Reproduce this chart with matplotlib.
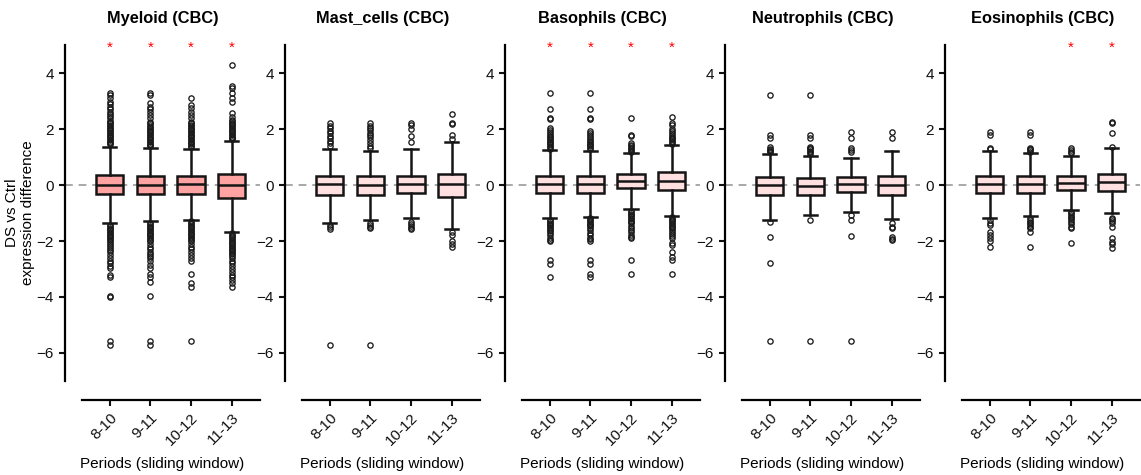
import matplotlib
matplotlib.use("Agg")
import matplotlib.pyplot as plt

plt.rcParams['font.family'] = ['Liberation Sans', 'DejaVu Sans']

periods = ["8-10", "9-11", "10-12", "11-13"]
titles = ["Myeloid (CBC)", "Mast_cells (CBC)", "Basophils (CBC)",
          "Neutrophils (CBC)", "Eosinophils (CBC)"]
fill_colors = ["#FFA2A2", "#FFE0E0", "#FFE0E0", "#FFE0E0", "#FFE0E0"]

# box stats per panel (rows) and period (columns)
medians = [[0.01, 0.01, 0.04, 0.00],
           [0.02, 0.00, 0.04, 0.05],
           [0.04, 0.04, 0.13, 0.15],
           [-0.01, -0.02, 0.02, 0.00],
           [0.02, 0.04, 0.08, 0.12]]
q1 = [[-0.33, -0.33, -0.32, -0.45],
      [-0.36, -0.36, -0.30, -0.42],
      [-0.29, -0.29, -0.12, -0.17],
      [-0.36, -0.36, -0.24, -0.36],
      [-0.30, -0.27, -0.18, -0.21]]
q3 = [[0.36, 0.33, 0.33, 0.38],
      [0.33, 0.31, 0.33, 0.38],
      [0.33, 0.33, 0.40, 0.48],
      [0.27, 0.24, 0.27, 0.32],
      [0.33, 0.33, 0.33, 0.40]]
whisk_lo = [[-1.35, -1.29, -1.25, -1.67],
            [-1.35, -1.25, -1.19, -1.57],
            [-1.19, -1.13, -0.87, -1.10],
            [-1.25, -1.07, -0.98, -1.21],
            [-1.17, -1.11, -0.89, -1.01]]
whisk_hi = [[1.37, 1.31, 1.29, 1.58],
            [1.27, 1.21, 1.27, 1.52],
            [1.25, 1.23, 1.13, 1.43],
            [1.10, 1.05, 0.98, 1.23],
            [1.21, 1.15, 1.05, 1.31]]

fliers_myeloid = [
    [1.45, 1.5, 1.55, 1.6, 1.65, 1.7, 1.75, 1.8, 1.85, 1.9, 1.95, 2.0, 2.05, 2.1, 2.15,
     2.2, 2.25, 2.3, 2.38, 2.46, 2.54, 2.62, 2.7, 2.8, 2.9, 2.98, 3.1, 3.21, 3.27,
     -1.42, -1.47, -1.52, -1.57, -1.62, -1.67, -1.72, -1.77, -1.82, -1.87, -1.92, -1.97,
     -2.02, -2.1, -2.17, -2.24, -2.32, -2.4, -2.5, -2.6, -2.71, -2.8, -2.88, -2.95,
     -3.22, -3.27, -3.96, -3.99, -5.56, -5.71],
    [1.38, 1.43, 1.48, 1.53, 1.58, 1.63, 1.68, 1.73, 1.78, 1.83, 1.88, 1.93, 1.98, 2.03,
     2.08, 2.13, 2.2, 2.26, 2.38, 2.5, 2.62, 2.71, 2.8, 2.92, 3.21, 3.27,
     -1.35, -1.4, -1.45, -1.5, -1.55, -1.6, -1.65, -1.7, -1.75, -1.8, -1.85, -1.9, -1.95,
     -2.0, -2.1, -2.2, -2.3, -2.38, -2.45, -2.55, -2.62, -2.72, -2.85, -2.95, -3.19,
     -3.27, -3.48, -3.96, -5.56, -5.71],
    [1.35, 1.4, 1.45, 1.5, 1.55, 1.6, 1.65, 1.7, 1.75, 1.8, 1.85, 1.9, 1.95, 2.0, 2.05,
     2.1, 2.15, 2.2, 2.26, 2.38, 2.5, 2.62, 2.74, 2.86, 3.1,
     -1.3, -1.35, -1.4, -1.45, -1.5, -1.55, -1.6, -1.65, -1.7, -1.75, -1.8, -1.85, -1.9,
     -1.95, -2.0, -2.1, -2.2, -2.3, -2.4, -2.5, -2.6, -2.71, -3.19, -3.49, -3.64, -5.58],
    [1.63, 1.68, 1.73, 1.78, 1.83, 1.88, 1.93, 1.98, 2.03, 2.08, 2.13, 2.18, 2.23, 2.28,
     2.32, 2.44, 2.56, 2.95, 3.1, 3.27, 3.45, 3.55, 4.29,
     -1.72, -1.77, -1.82, -1.87, -1.92, -1.97, -2.02, -2.07, -2.12, -2.17, -2.22, -2.27,
     -2.32, -2.37, -2.42, -2.47, -2.52, -2.6, -2.7, -2.8, -2.9, -3.0, -3.1, -3.2, -3.3,
     -3.4, -3.5, -3.63],
]
fliers_mast = [
    [1.4, 1.49, 1.57, 1.67, 1.76, 1.85, 1.93, 2.02, 2.11, 2.2, -1.43, -1.49, -1.57, -5.71],
    [1.33, 1.4, 1.5, 1.6, 1.7, 1.78, 1.87, 1.95, 2.04, 2.12, 2.2,
     -1.35, -1.43, -1.5, -1.55, -5.71],
    [1.52, 1.76, 1.99, 2.14, 2.23, -1.31, -1.38, -1.45, -1.52, -1.57],
    [1.64, 1.79, 2.17, 2.2, 2.54, -1.67, -1.79, -2.0, -2.11, -2.2],
]
fliers_baso = [
    [1.3, 1.35, 1.4, 1.45, 1.5, 1.55, 1.6, 1.65, 1.7, 1.75, 1.82, 1.9, 1.96, 2.02, 2.36,
     2.4, 2.71, 3.27,
     -1.24, -1.29, -1.34, -1.39, -1.44, -1.49, -1.54, -1.59, -1.64, -1.7, -1.79, -1.88,
     -1.96, -2.0, -2.68, -2.83, -3.27],
    [1.28, 1.33, 1.38, 1.43, 1.48, 1.53, 1.58, 1.63, 1.7, 1.78, 1.85, 1.92, 2.36, 2.4,
     2.71, 3.27,
     -1.18, -1.23, -1.28, -1.33, -1.38, -1.43, -1.48, -1.53, -1.6, -1.73, -1.8, -1.88,
     -1.94, -2.0, -2.68, -2.83, -3.19, -3.27],
    [1.18, 1.23, 1.28, 1.33, 1.38, 1.43, 1.5, 1.76, 1.79, 2.38,
     -0.92, -0.97, -1.02, -1.07, -1.12, -1.17, -1.22, -1.27, -1.32, -1.37, -1.45, -1.52,
     -1.62, -1.68, -1.78, -1.86, -1.9, -2.68, -3.19],
    [1.48, 1.53, 1.58, 1.63, 1.68, 1.73, 1.78, 1.85, 1.92, 2.0, 2.14, 2.23, 2.42,
     -1.15, -1.2, -1.25, -1.3, -1.35, -1.4, -1.45, -1.5, -1.55, -1.6, -1.67, -1.74,
     -1.82, -1.9, -2.08, -2.14, -2.38, -2.56, -2.68, -3.19],
]
fliers_neutro = [
    [1.17, 1.2, 1.25, 1.3, 1.37, 1.67, 1.79, 3.21, -1.31, -1.87, -2.77, -5.57],
    [1.1, 1.17, 1.22, 1.27, 1.32, 1.37, 1.67, 1.79, 3.21, -1.25, -5.57],
    [1.17, 1.25, 1.33, 1.67, 1.88, -1.07, -1.25, -1.81, -5.57],
    [1.69, 1.88, -1.37, -1.49, -1.55, -1.85, -1.92, -1.96],
]
fliers_eosino = [
    [1.29, 1.33, 1.79, 1.88, -1.25, -1.37, -1.43, -1.67, -1.79, -1.9, -2.0, -2.2],
    [1.19, 1.24, 1.29, 1.33, 1.79, 1.88,
     -1.19, -1.25, -1.31, -1.37, -1.43, -1.49, -1.55, -1.69, -2.2],
    [1.13, 1.19, 1.25, 1.31,
     -0.95, -1.01, -1.07, -1.13, -1.19, -1.25, -1.31, -1.4, -1.49, -1.55, -2.08],
    [1.37, 1.87, 2.23, 2.26,
     -1.17, -1.23, -1.29, -1.35, -1.49, -1.9, -2.02, -2.12, -2.24],
]
fliers = [fliers_myeloid, fliers_mast, fliers_baso, fliers_neutro, fliers_eosino]

# significance stars
significant = [[True, True, True, True],
               [False, False, False, False],
               [True, True, True, True],
               [False, False, False, False],
               [False, False, True, True]]

W, H = 1141, 475
fig = plt.figure(figsize=(W / 100, H / 100), dpi=100)

edge = "#151515"
for k in range(5):
    ax = fig.add_axes([(65 + 220 * k) / W, 1 - 381 / H, 195 / W, 336 / H])
    stats = []
    for j in range(4):
        stats.append(dict(med=medians[k][j], q1=q1[k][j], q3=q3[k][j],
                          whislo=whisk_lo[k][j], whishi=whisk_hi[k][j],
                          fliers=fliers[k][j]))
    ax.axhline(0, color="#a8a8a8", lw=1.4, dashes=(4, 3), zorder=0)
    ax.bxp(stats, positions=range(4), widths=0.67, capwidths=0.33,
           patch_artist=True, showfliers=True, manage_ticks=False,
           boxprops=dict(facecolor=fill_colors[k], edgecolor=edge, linewidth=1.8),
           medianprops=dict(color=edge, linewidth=1.8),
           whiskerprops=dict(color=edge, linewidth=1.8),
           capprops=dict(color=edge, linewidth=1.8),
           flierprops=dict(marker="o", markersize=3.8, markerfacecolor="none",
                           markeredgecolor="#1a1a1a", markeredgewidth=0.95))
    for j in range(4):
        if significant[k][j]:
            ax.text(j, 4.9, "*", color="red", fontsize=11, ha="center", va="center",
                    clip_on=False)
    ax.set_xlim(-1.1, 3.7)
    ax.set_ylim(-7, 5)
    ax.set_yticks([-6, -4, -2, 0, 2, 4])
    ax.set_xticks(range(4))
    ax.set_xticklabels(periods)
    ax.spines["top"].set_visible(False)
    ax.spines["right"].set_visible(False)
    ax.spines["left"].set_linewidth(1.6)
    ax.spines["bottom"].set_linewidth(1.6)
    ax.spines["bottom"].set_position(("outward", 13.5))
    ax.spines["bottom"].set_bounds(-0.69, 3.7)
    ax.tick_params(axis="both", width=1.5, length=4.5, labelsize=11, colors="#111111")
    for lab in ax.get_xticklabels():
        lab.set_rotation(45)
        lab.set_ha("right")
        lab.set_rotation_mode("anchor")
    ax.set_title(titles[k], fontsize=11.8, fontweight="bold", pad=16)
    ax.set_xlabel("Periods (sliding window)", fontsize=11, labelpad=6)
    if k == 0:
        ax.set_ylabel("DS vs Ctrl\nexpression difference", fontsize=11)
        ax.yaxis.set_label_coords(-0.155, 0.5)

fig.savefig("out.png", dpi=100)
